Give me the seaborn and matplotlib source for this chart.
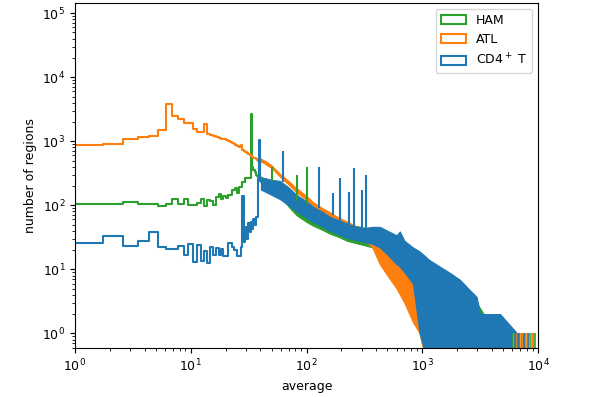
import numpy as np
import matplotlib
matplotlib.use("Agg")
import matplotlib.pyplot as plt
from matplotlib.patches import Patch
import seaborn as sns

# linear histogram bins (width ~0.87) for the resolved low-average part
bin_start = 0.86
bin_width = 0.87

# number of regions per bin, bins 0..45 (average ~0.9 .. ~40)
ham_counts = [104, 106, 112, 103, 105, 99, 103, 124, 103, 124,
              101, 101, 110, 124, 99, 121, 115, 100, 133, 150,
              124, 140, 130, 145, 145, 174, 174, 184, 155, 195,
              195, 233, 233, 265, 265, 265, 265, 2700, 400, 355,
              330, 300, 290, 280, 265, 255]
atl_counts = [890, 900, 1100, 1180, 1230, 1520, 3880, 2500, 2220, 1900,
              1900, 1530, 1420, 1410, 1870, 1300, 1250, 1200, 1150, 1120,
              1100, 1080, 1050, 1000, 960, 930, 900, 870, 830, 800,
              860, 720, 700, 680, 650, 630, 610, 590, 570, 550,
              540, 520, 510, 500, 490, 480]
cd4_counts = [26, 33, 23, 28, 38, 22, 21, 21, 23, 17,
              25, 13, 24, 13.5, 19, 12.6, 22, 17, 21.5, 16.5,
              20.5, 16, 16, 26, 26, 22, 20, 20, 16, 16,
              22, 140, 27, 45, 30, 52, 38, 55, 42, 60,
              50, 66, 66, 260, 1040, 240]

# above ~40 the bins are too narrow to resolve: envelope of the step trace
ham_env_x = [40, 45, 50, 59, 72, 82, 100, 114, 135, 159, 190, 223, 260, 311,
             370, 430, 500, 600, 700, 830, 950, 1100, 1420, 1700, 2130, 2500,
             2950, 3400, 4500, 5500, 6000]
ham_env_lo = [230, 220, 190, 140, 90, 70, 55, 48, 42, 36, 32, 28, 26, 24,
              22, 19, 16, 12, 8, 5, 1, 0.3, 0.3, 0.3, 0.3, 0.3,
              0.3, 0.3, 0.3, 0.3, 0.3]
ham_env_hi = [270, 260, 240, 175, 130, 115, 100, 90, 75, 65, 58, 52, 48, 45,
              40, 36, 32, 27, 22, 17, 13, 10, 8, 6, 5, 4,
              3, 2, 2, 1, 1]

atl_env_x = [40, 45, 50, 59, 70, 82, 100, 114, 135, 159, 190, 223, 260, 311,
             370, 430, 500, 600, 700, 830, 950, 1100, 1300, 1600, 2000, 3000]
atl_env_lo = [490, 430, 380, 280, 210, 160, 120, 98, 80, 66, 55, 46, 38, 30,
              22, 12, 8, 5, 3, 1.5, 1, 0.3, 0.3, 0.3, 0.3, 0.3]
atl_env_hi = [540, 480, 420, 310, 240, 185, 140, 112, 92, 78, 64, 56, 48, 38,
              33, 26, 20, 16, 12, 9, 6, 4, 3, 2, 2, 1]

cd4_env_x = [40.4, 42, 50, 59, 70, 82, 100, 114, 135, 159, 190, 223, 260, 311,
             370, 430, 500, 600, 640, 700, 830, 950, 1150, 1420, 1700, 2130,
             2500, 2950, 3160, 4700, 6600]
cd4_env_lo = [175, 170, 145, 125, 100, 80, 64, 55, 47, 40, 35, 31, 29, 27,
              25, 22, 17, 12, 11, 9, 6, 1, 0.3, 0.3, 0.3, 0.3,
              0.3, 0.3, 0.3, 0.3, 0.3]
cd4_env_hi = [280, 270, 250, 240, 190, 145, 115, 95, 80, 66, 58, 52, 47, 44,
              46, 46, 40, 34, 39, 28, 22, 19, 14, 11, 9, 6.8,
              5, 3.7, 2, 2, 1]

# single-bin peaks sticking out of the traces: position, base, top
ham_peak_x = [50, 82, 100]
ham_peak_base = [240, 115, 100]
ham_peak_top = [400, 297, 400]
cd4_peak_x = [63, 129, 168, 195, 234, 259, 301, 326]
cd4_peak_base = [230, 90, 70, 55, 50, 45, 44, 44]
cd4_peak_top = [710, 400, 155, 270, 163, 385, 174, 297]

# lone bins holding a single region at the far right
ham_tail_x = [6100, 6700, 7200, 7700, 8500, 9000, 9400]
atl_tail_x = [6200, 6500, 7000, 7400, 7900, 8300, 8800, 9100]
cd4_tail_x = [6300, 6800, 7600, 8200]

labels = ["HAM", "ATL", "CD4$^+$ T"]
colors = ["#2ca02c", "#ff7f0e", "#1f77b4"]

sns.set_style("ticks", {"axes.edgecolor": "black", "text.color": "black",
                        "xtick.color": "black", "ytick.color": "black",
                        "axes.labelcolor": "black"})
plt.rcParams["font.family"] = ["DejaVu Sans"]
plt.rcParams["font.size"] = 9

fig, ax = plt.subplots(figsize=(5.98, 3.97), dpi=100)
fig.subplots_adjust(left=0.1254, right=0.8997, bottom=0.1234, top=0.9937)
ax.set_xscale("log")
ax.set_yscale("log")

series = [
    (ham_counts, ham_env_x, ham_env_lo, ham_env_hi, ham_tail_x),
    (atl_counts, atl_env_x, atl_env_lo, atl_env_hi, atl_tail_x),
    (cd4_counts, cd4_env_x, cd4_env_lo, cd4_env_hi, cd4_tail_x),
]
for (counts, ex, elo, ehi, tail), c in zip(series, colors):
    edges = bin_start + bin_width * np.arange(len(counts) + 1)
    sns.lineplot(x=edges, y=list(counts) + [counts[-1]], drawstyle="steps-post",
                 color=c, lw=1.5, estimator=None, ax=ax)
    ax.fill_between(ex, elo, ehi, color=c, lw=0.8)
    ax.vlines(tail, 0.1, 1, color=c, lw=1.2)

ax.vlines(ham_peak_x, ham_peak_base, ham_peak_top, color=colors[0], lw=1.5)
ax.vlines(cd4_peak_x, cd4_peak_base, cd4_peak_top, color=colors[2], lw=1.5)

ax.set_xlim(1, 1e4)
ax.set_ylim(0.59, 1.47e5)
ax.set_xlabel("average")
ax.set_ylabel("number of regions")
ax.tick_params(which="major", length=3.5, width=0.8)
ax.tick_params(which="minor", length=2, width=0.6)
for s in ax.spines.values():
    s.set_linewidth(0.8)

handles = [Patch(facecolor="none", edgecolor=c, lw=1.5, label=l)
           for c, l in zip(colors, labels)]
ax.legend(handles=handles, loc="upper right")

fig.savefig("out.png", dpi=100)
